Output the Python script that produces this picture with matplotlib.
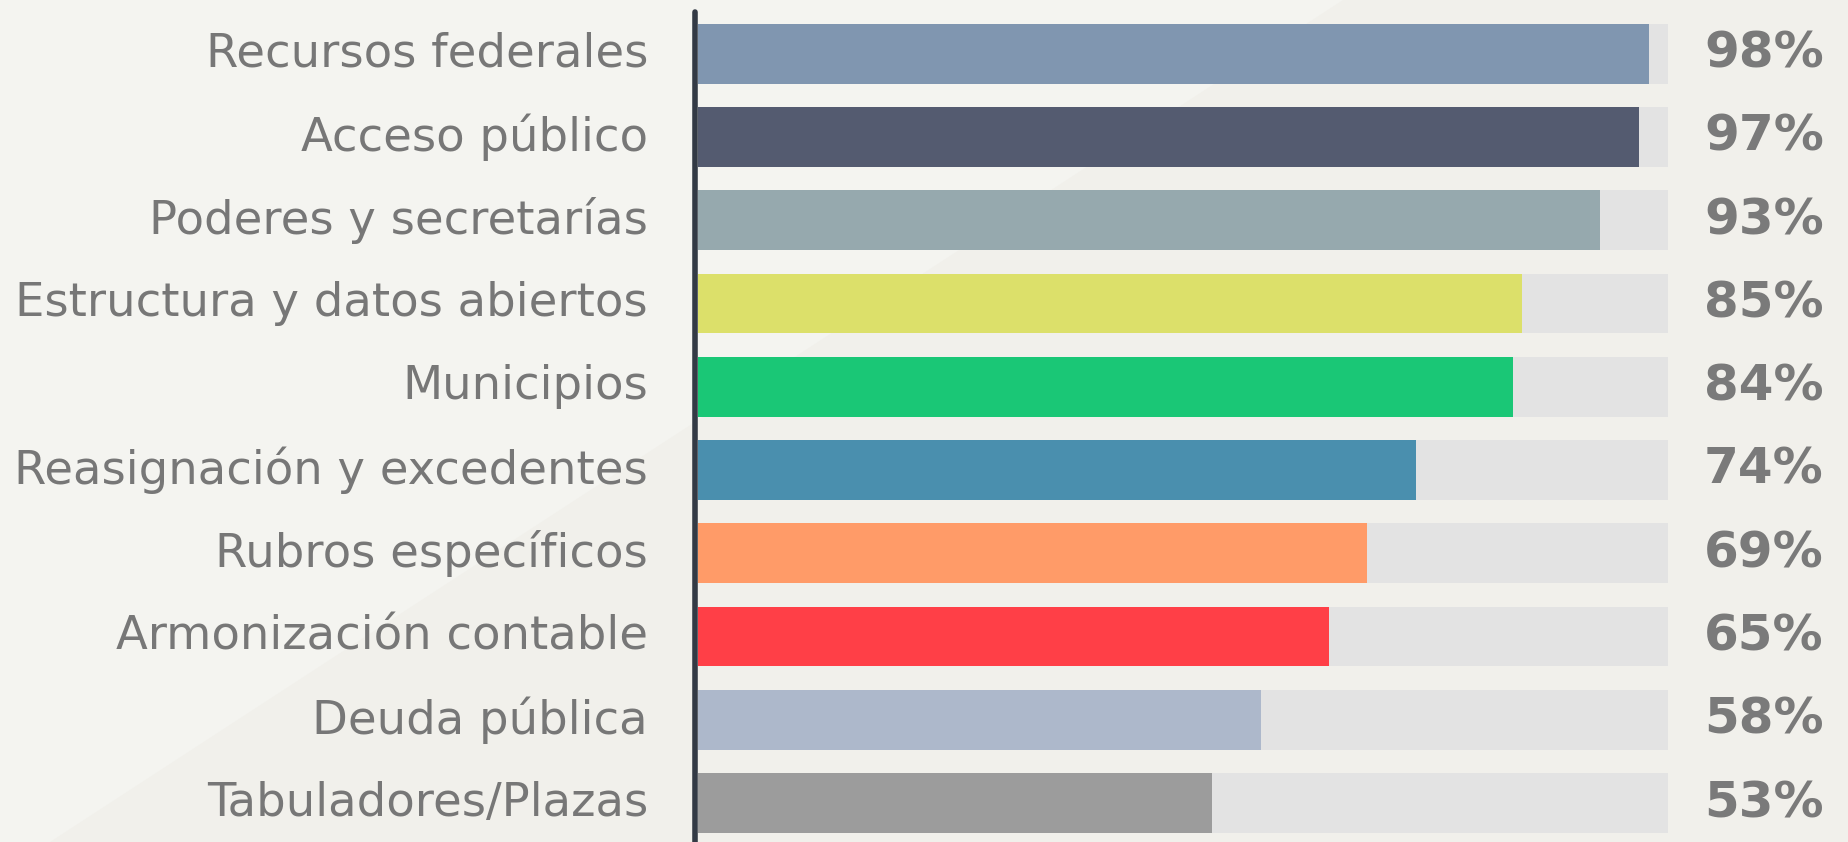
import matplotlib.pyplot as plt
from matplotlib.patches import Polygon

categories = [
    "Recursos federales",
    "Acceso público",
    "Poderes y secretarías",
    "Estructura y datos abiertos",
    "Municipios",
    "Reasignación y excedentes",
    "Rubros específicos",
    "Armonización contable",
    "Deuda pública",
    "Tabuladores/Plazas",
]
values = [98, 97, 93, 85, 84, 74, 69, 65, 58, 53]
colors = [
    "#8096b0", "#545b70", "#96a9ae", "#dce06a", "#1ac776",
    "#4a8fae", "#ff9b68", "#ff3f47", "#adb8cb", "#9c9c9c",
]

W, H = 1849, 842
fig = plt.figure(figsize=(W / 100, H / 100), dpi=100)
fig.patch.set_facecolor("#f4f4f0")

# darker upper-right half of the background
fig.patches.append(Polygon([(50 / W, 0), (1343 / W, 1), (1, 1), (1, 0)],
                           closed=True, transform=fig.transFigure,
                           facecolor="#f1f0eb", edgecolor="none", zorder=-10))

x0, x100 = 698, 1668
ax = fig.add_axes([x0 / W, 0, (x100 - x0) / W, 1])
ax.set_zorder(5)
ax.set_facecolor("none")
for s in ax.spines.values():
    s.set_visible(False)
ax.set_xticks([])
ax.set_yticks([])

pitch = 83.26
top_c = 53.7
ax.set_xlim(0, 100)
ax.set_ylim(9 + (H - (top_c + 9 * pitch)) / pitch, -top_c / pitch)

pos = list(range(len(categories)))
ax.barh(pos, [100] * len(pos), height=0.72, color="#e3e3e3", zorder=1)
ax.barh(pos, values, height=0.72, color=colors, zorder=2)

px = 100 / (x100 - x0)
for i, (name, v) in enumerate(zip(categories, values)):
    ax.text((648 - x0) * px, i, name, ha="right", va="center",
            fontsize=33.5, color="#777777", family="DejaVu Sans", clip_on=False)
    ax.text((1704 - x0) * px, i, f"{v}%", ha="left", va="center",
            fontsize=36, fontweight="bold", color="#7a7a7a",
            family="DejaVu Sans", clip_on=False)

ax.plot([-0.3, -0.3], [-top_c / pitch + 12 / pitch, 10], color="#333a45",
        linewidth=4, solid_capstyle="round", clip_on=False, zorder=3)

fig.savefig("out.png", dpi=100, facecolor=fig.get_facecolor())
